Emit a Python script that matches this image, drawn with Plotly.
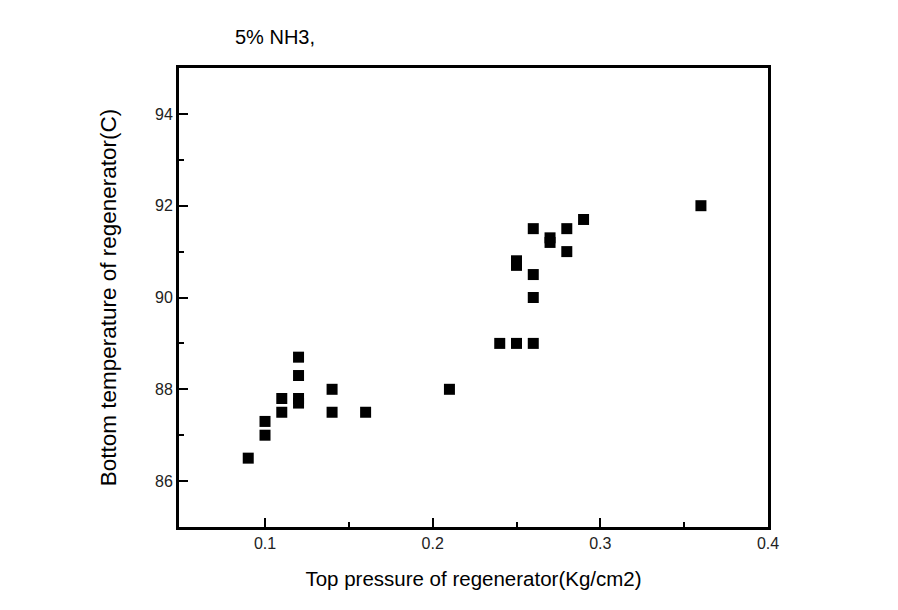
import plotly.graph_objects as go

pressure = [0.09, 0.10, 0.10, 0.11, 0.11, 0.12, 0.12, 0.12, 0.12, 0.14, 0.14, 0.16,
            0.21, 0.24, 0.25, 0.26, 0.26, 0.26, 0.26, 0.25, 0.25, 0.27, 0.27,
            0.28, 0.28, 0.29, 0.36]
temperature = [86.5, 87.0, 87.3, 87.5, 87.8, 87.7, 87.8, 88.3, 88.7, 87.5, 88.0, 87.5,
               88.0, 89.0, 89.0, 89.0, 90.0, 90.5, 91.5, 90.7, 90.8, 91.2, 91.3,
               91.0, 91.5, 91.7, 92.0]

x_ticks = [0.1, 0.2, 0.3, 0.4]
y_ticks = [86, 88, 90, 92, 94]

fig = go.Figure()
fig.add_trace(go.Scatter(
    x=pressure, y=temperature, mode="markers",
    marker=dict(symbol="square", size=11, color="black", line=dict(width=0)),
    showlegend=False,
))

font = "Liberation Sans, Arial, sans-serif"
fig.update_layout(
    width=898, height=610,
    margin=dict(l=179, r=130, t=68, b=83),
    paper_bgcolor="white", plot_bgcolor="white",
    font=dict(family=font, color="black"),
    annotations=[dict(
        text="5% NH3,", x=0.092, y=1.068, xref="paper", yref="paper",
        xanchor="left", yanchor="middle", showarrow=False,
        font=dict(size=20, family=font, color="black"),
    )],
)
fig.update_xaxes(
    range=[0.0487, 0.4], tickvals=x_ticks, ticktext=[str(v) for v in x_ticks],
    showgrid=False, zeroline=False, showline=True, linewidth=3, linecolor="black",
    mirror=True, ticks="inside", ticklen=9, tickwidth=2, tickcolor="black",
    tickfont=dict(size=16, color="#222222"),
    minor=dict(tickvals=[0.15, 0.25, 0.35], ticks="inside", ticklen=5, tickwidth=2, tickcolor="black", showgrid=False),
    title=dict(text="Top pressure of regenerator(Kg/cm2)", font=dict(size=20.5), standoff=21),
)
fig.update_yaxes(
    range=[85, 95], tickvals=y_ticks,
    showgrid=False, zeroline=False, showline=True, linewidth=3, linecolor="black",
    mirror=True, ticks="inside", ticklen=9, tickwidth=2, tickcolor="black",
    tickfont=dict(size=16, color="#222222"),
    minor=dict(tickvals=[85, 87, 89, 91, 93, 95], ticks="inside", ticklen=5, tickwidth=2, tickcolor="black", showgrid=False),
    title=dict(text="Bottom temperature of regenerator(C)", font=dict(size=22.5), standoff=33),
)
fig.write_html("out.html")
